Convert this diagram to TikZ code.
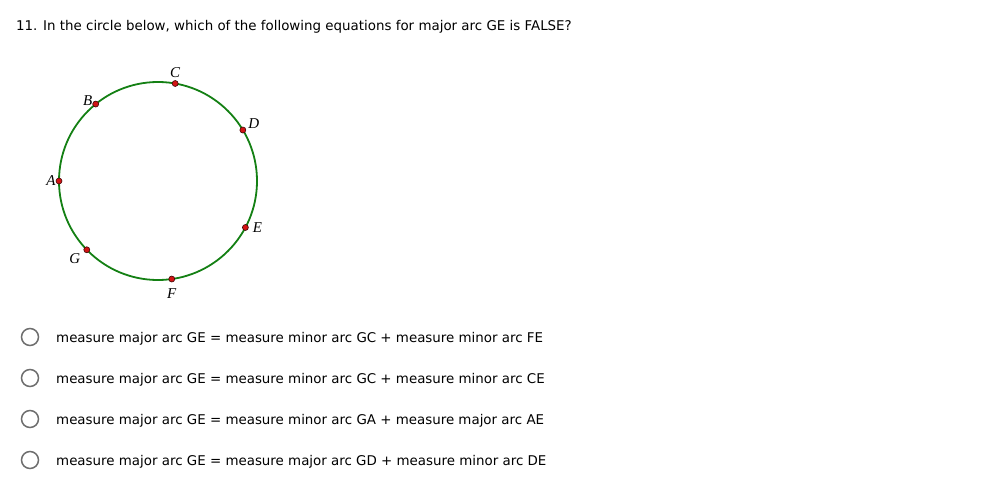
\documentclass[tikz,border=0pt]{standalone}
\usepackage{fontspec}
\setmainfont{DejaVu Sans}
\newfontfamily\lblfont{Liberation Serif}
\usepackage{tikz}
\usetikzlibrary{positioning}
\definecolor{arcGreen}{RGB}{20, 128, 20}
\definecolor{ptRed}{RGB}{210, 20, 20}
\definecolor{radioGray}{RGB}{110, 110, 110}

\begin{document}
\begin{tikzpicture}[
    x=1pt, y=-1pt,
    pt/.style={
        circle,
        draw=black!70!ptRed,
        fill=ptRed,
        line width=0.6pt,
        inner sep=0pt,
        minimum size=6pt
    },
    lbl/.style={
        font=\lblfont\itshape\fontsize{15}{15}\selectfont,
        inner sep=1pt
    },
    radio/.style={
        circle,
        draw=radioGray,
        line width=1.5pt,
        minimum size=17pt,
        inner sep=0pt
    },
    answer/.style={
        anchor=west,
        inner sep=0pt,
        font=\fontsize{13.4}{15}\selectfont
    }
]
    \useasboundingbox (0,0) rectangle (1008,503);

    % Question
    \node[answer] (question) at (16,27)
        {11. In the circle below, which of the following equations for major arc GE is FALSE?};

    % Circle
    \coordinate (o) at (158,181);
    \draw[arcGreen, line width=1.8pt] (o) circle[radius=99pt];

    % Points
    \node[pt] (C) at ([shift={(80:99pt)}]o) {};
    \node[pt] (B) at ([shift={(129:99pt)}]o) {};
    \node[pt] (D) at ([shift={(31:99pt)}]o) {};
    \node[pt] (A) at ([shift={(180:99pt)}]o) {};
    \node[pt] (E) at ([shift={(-28:99pt)}]o) {};
    \node[pt] (G) at ([shift={(224:99pt)}]o) {};
    \node[pt] (F) at ([shift={(-82:99pt)}]o) {};

    % Labels
    \node[lbl, above=1pt of C] {C};
    \node[lbl, left=-1pt of B, yshift=3pt] {B};
    \node[lbl, above right=-2pt and 2pt of D] {D};
    \node[lbl, left=-1pt of A] {A};
    \node[lbl, right=3pt of E] {E};
    \node[lbl, below left=0pt and 3pt of G] {G};
    \node[lbl, below=5pt of F] {F};

    % Choices
    \node[radio] (r1) at (30,337) {};
    \node[radio] (r2) at (30,378) {};
    \node[radio] (r3) at (30,419) {};
    \node[radio] (r4) at (30,460) {};
    \node[answer] (a1) at (56,339) {measure major arc GE = measure minor arc GC + measure minor arc FE};
    \node[answer] (a2) at (56,380) {measure major arc GE = measure minor arc GC + measure minor arc CE};
    \node[answer] (a3) at (56,421) {measure major arc GE = measure minor arc GA + measure major arc AE};
    \node[answer] (a4) at (56,462) {measure major arc GE = measure major arc GD + measure minor arc DE};

\end{tikzpicture}
\end{document}
